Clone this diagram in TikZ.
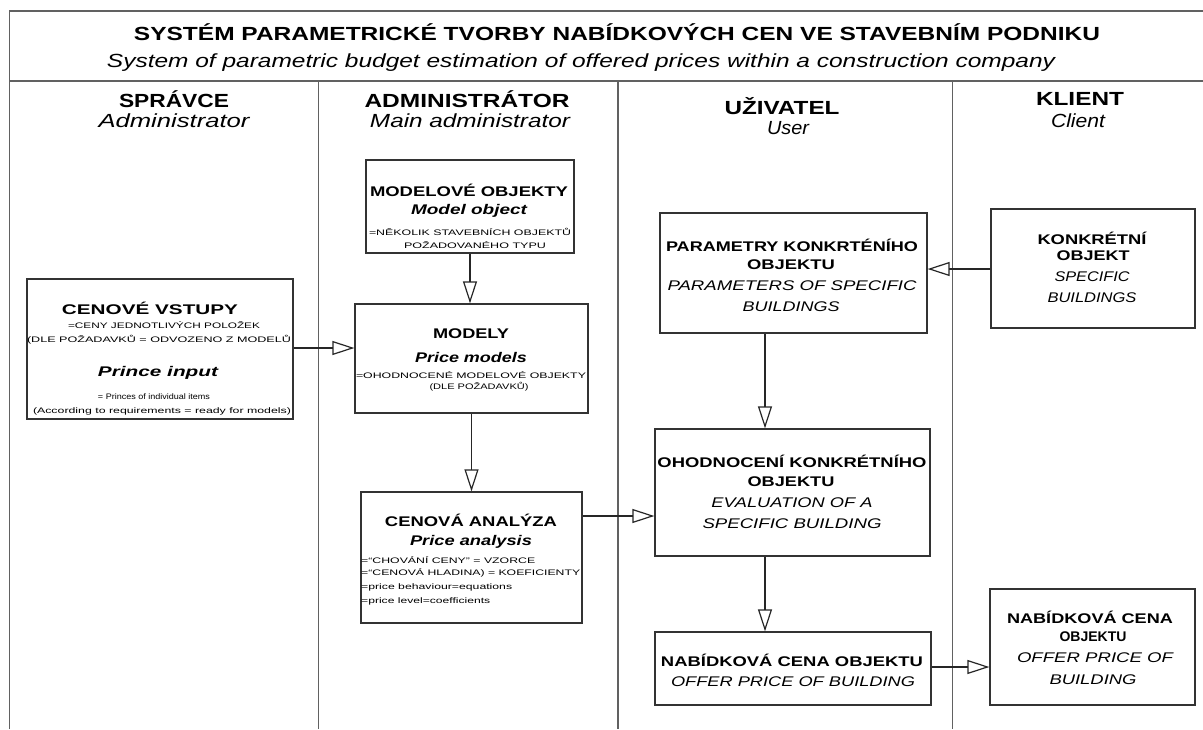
\documentclass[tikz,border=0pt]{standalone}
\usepackage{fontspec}
\usepackage{graphicx}
\setmainfont{Liberation Sans}
\usetikzlibrary{arrows.meta}
\newcommand{\fitw}[2]{\resizebox{#1}{\height}{#2}}
\tikzset{
  frameline/.style={draw=black!62, line width=1.6pt},
  box/.style={draw=black!80, line width=1.3pt, fill=white, inner sep=0pt},
  flow/.style={draw=black!85, line width=1.3pt, -{Triangle[open, length=22pt, width=14pt, line width=1.2pt]}},
  txt/.style={inner sep=0pt, anchor=center},
  big/.style={txt, font=\bfseries\fontsize{19}{20}\selectfont},
  bigi/.style={txt, font=\itshape\fontsize{19}{20}\selectfont},
  ttl/.style={txt, font=\bfseries\fontsize{14}{15}\selectfont},
  ttli/.style={txt, font=\bfseries\itshape\fontsize{14}{15}\selectfont},
  sub/.style={txt, font=\itshape\fontsize{14}{15}\selectfont},
  tiny/.style={txt, font=\fontsize{8}{9}\selectfont},
}
\begin{document}
\begin{tikzpicture}[x=1pt,y=-1pt]
\useasboundingbox (0,0) rectangle (1203,729);
% frame
\coordinate (tl) at (9.5,11);
\coordinate (tr) at (1203,11);
\coordinate (bl) at (9.5,729);
\coordinate (sl) at (9.5,81);
\coordinate (sr) at (1203,81);
\draw[frameline] (bl) -- (tl) -- (tr);
\draw[frameline] (sl) -- (sr);
\coordinate (c1t) at (318.5,81); \coordinate (c1b) at (318.5,729);
\coordinate (c2t) at (618,81); \coordinate (c2b) at (618,729);
\coordinate (c3t) at (952.5,81); \coordinate (c3b) at (952.5,729);
\draw[frameline] (c1t) -- (c1b);
\draw[frameline] (c2t) -- (c2b);
\draw[frameline] (c3t) -- (c3b);
% titles
\node[big] (title) at (617,32) {\fitw{966pt}{SYSTÉM PARAMETRICKÉ TVORBY NABÍDKOVÝCH CEN VE STAVEBNÍM PODNIKU}};
\node[bigi] (subtitle) at (581,63) {\fitw{948pt}{System of parametric budget estimation of offered prices within a construction company}};
% column headers
\node[big] (h1) at (174,99) {\fitw{110pt}{SPRÁVCE}};
\node[bigi] (h1e) at (174,121) {\fitw{151pt}{Administrator}};
\node[big] (h2) at (467,99) {\fitw{205pt}{ADMINISTRÁTOR}};
\node[bigi] (h2e) at (470,121) {\fitw{200pt}{Main administrator}};
\node[big] (h3) at (782,106) {\fitw{115pt}{UŽIVATEL}};
\node[bigi] (h3e) at (788,128) {\fitw{42pt}{User}};
\node[big] (h4) at (1080,99) {\fitw{88pt}{KLIENT}};
\node[bigi] (h4e) at (1078,121) {\fitw{54pt}{Client}};
% boxes
\node[box, minimum width=266pt, minimum height=140pt] (vstupy) at (160,349) {};
\node[box, minimum width=208pt, minimum height=93pt] (modobj) at (470,206.5) {};
\node[box, minimum width=233pt, minimum height=109pt] (modely) at (471.5,358.5) {};
\node[box, minimum width=221pt, minimum height=131pt] (analyza) at (471.5,557.5) {};
\node[box, minimum width=267pt, minimum height=120pt] (param) at (793.5,273) {};
\node[box, minimum width=275pt, minimum height=127pt] (ohod) at (792.5,492.5) {};
\node[box, minimum width=276pt, minimum height=73pt] (nabid) at (793,668.5) {};
\node[box, minimum width=204pt, minimum height=119pt] (konkr) at (1093,268.5) {};
\node[box, minimum width=205pt, minimum height=116pt] (klnab) at (1092.5,647) {};
% texts: vstupy
\node[ttl] at (150,308) {\fitw{176pt}{CENOVÉ VSTUPY}};
\node[tiny] at (164,325) {\fitw{192pt}{=CENY JEDNOTLIVÝCH POLOŽEK}};
\node[tiny] at (159,340) {\fitw{264pt}{(DLE POŽADAVKŮ = ODVOZENO Z MODELŮ}};
\node[ttli] at (158,373) {\fitw{120pt}{Prince input}};
\node[tiny] at (154,397) {\fitw{112pt}{= Princes of individual items}};
\node[tiny] at (162,411) {\fitw{258pt}{(According to requirements = ready for models)}};
% modobj
\node[ttl] at (469,190) {\fitw{198pt}{MODELOVÉ OBJEKTY}};
\node[ttli] at (469,211) {\fitw{116pt}{Model object}};
\node[tiny] at (470,232) {\fitw{202pt}{=NĚKOLIK STAVEBNÍCH OBJEKTŮ}};
\node[tiny] at (475,245) {\fitw{142pt}{POŽADOVANÉHO TYPU}};
% modely
\node[ttl] at (471,334) {\fitw{76pt}{MODELY}};
\node[ttli] at (471,357) {\fitw{112pt}{Price models}};
\node[tiny] at (471,375) {\fitw{230pt}{=OHODNOCENÉ MODELOVÉ OBJEKTY}};
\node[tiny] at (479,387) {\fitw{99pt}{(DLE POŽADAVKŮ)}};
% analyza
\node[ttl] at (471,520) {\fitw{172pt}{CENOVÁ ANALÝZA}};
\node[ttli] at (471,542) {\fitw{122pt}{Price analysis}};
\node[tiny, anchor=west] at (361,560) {\fitw{174pt}{=``CHOVÁNÍ CENY'' = VZORCE}};
\node[tiny, anchor=west] at (361,573) {\fitw{219pt}{=``CENOVÁ HLADINA) = KOEFICIENTY}};
\node[tiny, anchor=west] at (361,587) {\fitw{151pt}{=price behaviour=equations}};
\node[tiny, anchor=west] at (361,601) {\fitw{129pt}{=price level=coefficients}};
% param
\node[ttl] at (792,245) {\fitw{252pt}{PARAMETRY KONKRTÉNÍHO}};
\node[ttl] at (791,265) {\fitw{88pt}{OBJEKTU}};
\node[sub] at (792,286) {\fitw{249pt}{PARAMETERS OF SPECIFIC}};
\node[sub] at (791,307) {\fitw{97pt}{BUILDINGS}};
% ohod
\node[ttl] at (792,461) {\fitw{269pt}{OHODNOCENÍ KONKRÉTNÍHO}};
\node[ttl] at (791,482) {\fitw{87pt}{OBJEKTU}};
\node[sub] at (792,503) {\fitw{161pt}{EVALUATION OF A}};
\node[sub] at (792,524) {\fitw{179pt}{SPECIFIC BUILDING}};
% nabid
\node[ttl] at (792,660) {\fitw{262pt}{NABÍDKOVÁ CENA OBJEKTU}};
\node[sub] at (793,682) {\fitw{244pt}{OFFER PRICE OF BUILDING}};
% konkr
\node[ttl] at (1092,238) {\fitw{109pt}{KONKRÉTNÍ}};
\node[ttl] at (1093,256) {\fitw{73pt}{OBJEKT}};
\node[sub] at (1092,277) {\fitw{75pt}{SPECIFIC}};
\node[sub] at (1092,298) {\fitw{89pt}{BUILDINGS}};
% klnab
\node[ttl] at (1090,617) {\fitw{166pt}{NABÍDKOVÁ CENA}};
\node[ttl] at (1093,637) {\fitw{67pt}{OBJEKTU}};
\node[sub] at (1095,658) {\fitw{156pt}{OFFER PRICE OF}};
\node[sub] at (1093,680) {\fitw{87pt}{BUILDING}};
% connectors
\draw[flow] (vstupy.east |- 0,348) -- (modely.west |- 0,348);
\draw[flow] (modobj.south) -- (modobj.south |- modely.north);
\draw[flow] (modely.south) -- (modely.south |- analyza.north);
\draw[flow] (analyza.east |- 0,516) -- (ohod.west |- 0,516);
\draw[flow] (konkr.west |- 0,269) -- (param.east |- 0,269);
\draw[flow] (param.south -| 765,0) -- (ohod.north -| 765,0);
\draw[flow] (ohod.south -| 765,0) -- (nabid.north -| 765,0);
\draw[flow] (nabid.east |- 0,667) -- (klnab.west |- 0,667);
\end{tikzpicture}
\end{document}
